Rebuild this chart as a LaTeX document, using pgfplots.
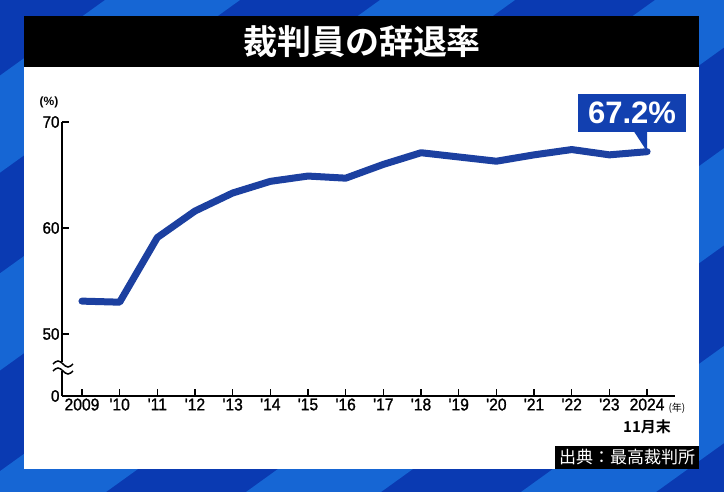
\documentclass[border=0pt]{standalone}
\usepackage{fontspec}
\usepackage{pgfplots}
\pgfplotsset{compat=1.18}
\setmainfont{Liberation Sans}
\newfontfamily\tickf{Liberation Sans}[FakeStretch=0.92, FakeBold=1.2]
\newfontfamily\jp{Noto Sans CJK JP}[BoldFont={Noto Sans CJK JP Bold}]
\definecolor{bgdark}{RGB}{10,58,178}
\definecolor{bglight}{RGB}{22,102,212}
\definecolor{linec}{RGB}{28,64,160}
\definecolor{boxc}{RGB}{18,64,176}
\begin{document}
\begin{tikzpicture}[x=1pt,y=1pt]
\fill[bgdark] (0,0) rectangle (724,492);
\begin{scope}
\clip (0,0) rectangle (724,492);
\foreach \a in {105,380,655,930,1205} {
  \fill[bglight] (\a,492) -- ({\a+135},492) -- ({\a+135-684},0) -- ({\a-684},0) -- cycle;
}
\end{scope}
\fill[white] (24,23) rectangle (699,476);
\fill[black] (24,425) rectangle (699,476);
\node[white, font=\jp\bfseries\fontsize{34}{34}\selectfont] at (362,450) {裁判員の辞退率};
\fill[black] (555,23) rectangle (699,46);
\node[white, font=\jp\fontsize{17}{17}\selectfont] at (627,34.5) {出典：最高裁判所};
\begin{axis}[
  at={(62pt,96pt)}, anchor=south west,
  scale only axis, width=613pt, height=274pt,
  xmin=2008.47, xmax=2024.74, ymin=44.15, ymax=70,
  axis x line=bottom, axis y line=left,
  axis line style={line width=1.8pt, -},
  xtick={2009,...,2024},
  xticklabels={2009,{\char"27}10,{\char"27}11,{\char"27}12,{\char"27}13,{\char"27}14,{\char"27}15,{\char"27}16,{\char"27}17,{\char"27}18,{\char"27}19,{\char"27}20,{\char"27}21,{\char"27}22,{\char"27}23,2024},
  ytick={44.15,50,60,70}, yticklabels={0,50,60,70},
  tick align=inside, major tick length=7pt,
  tick style={black, line width=1.5pt},
  x tick label style={font=\tickf\fontsize{17}{17}\selectfont, yshift=1pt},
  y tick label style={font=\tickf\fontsize{16.5}{16.5}\selectfont, xshift=1pt},
  /pgf/number format/assume math mode=true,
  clip=false,
]
\addplot[linec, line width=7pt, line join=round, line cap=round] coordinates {
(2009,53.1) (2010,53.0) (2011,59.1) (2012,61.6) (2013,63.3) (2014,64.4)
(2015,64.9) (2016,64.7) (2017,66.0) (2018,67.1) (2019,66.7) (2020,66.3)
(2021,66.9) (2022,67.4) (2023,66.9) (2024,67.2)};
\fill[boxc] (axis cs:2024,67.2) -- ++(0pt,20pt) -- ++(-13pt,0pt) -- cycle;
\end{axis}
\fill[boxc] (578,360) rectangle (686,398);
\node[white, font=\bfseries\fontsize{31}{31}\selectfont] at (632,379) {67.2\%};
\fill[white] (54,121) rectangle (72,130);
\draw[line width=1.5pt] (53,128) sin (58,131) cos (63,128) sin (68,125) cos (73,128);
\draw[line width=1.5pt] (53,121) sin (58,124) cos (63,121) sin (68,118) cos (73,121);
\node[font=\bfseries\fontsize{12}{12}\selectfont] at (49,390) {(\%)};
\node[font=\jp\fontsize{10}{10}\selectfont, anchor=west] at (665,84) {(年)};
\node[font=\jp\bfseries\fontsize{15}{15}\selectfont] at (647,65) {11月末};
\end{tikzpicture}
\end{document}
